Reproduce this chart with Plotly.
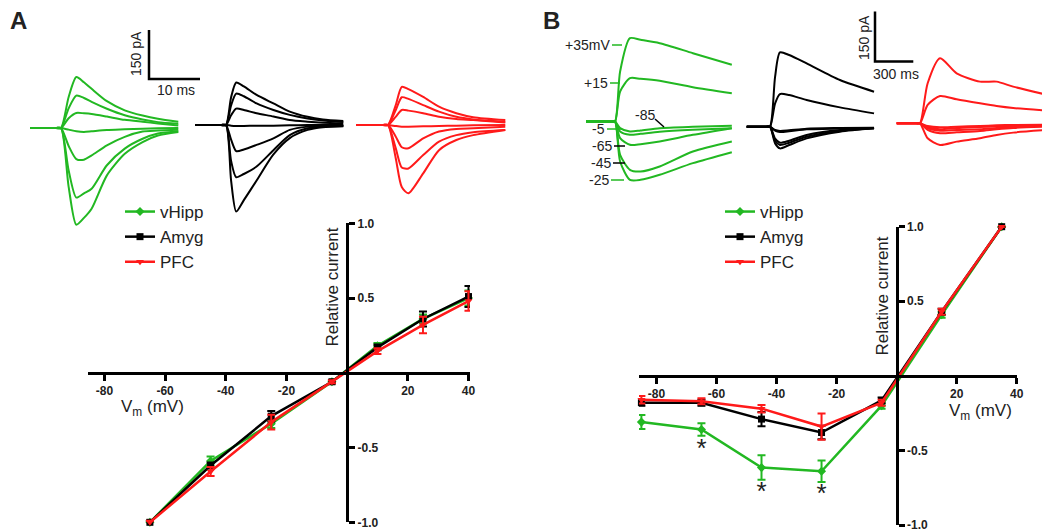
import plotly.graph_objects as go

W, H = 1050, 530
OX, OY = 8, 8  # the page body offsets the figure by 8 px
GREEN = '#22b822'
BLACK = '#000000'
RED = '#ff1a1a'
TXT = '#222222'
FONT = 'Liberation Sans, Arial, sans-serif'

# ---------------- I-V curves (relative current) ----------------
vm_a = [-65, -45, -25, -5, 10, 25, 40]
vhipp_a = [-1.0, -0.59, -0.34, -0.06, 0.18, 0.36, 0.50]
vhipp_a_err = [0.01, 0.03, 0.03, 0.01, 0.02, 0.03, 0.05]
amyg_a = [-1.0, -0.62, -0.29, -0.06, 0.17, 0.36, 0.51]
amyg_a_err = [0.01, 0.02, 0.035, 0.01, 0.02, 0.05, 0.07]
pfc_a = [-1.0, -0.66, -0.33, -0.06, 0.145, 0.32, 0.48]
pfc_a_err = [0.01, 0.03, 0.05, 0.01, 0.02, 0.055, 0.065]

vm_b = [-85, -65, -45, -25, -5, 15, 35]
vhipp_b = [-0.31, -0.36, -0.615, -0.64, -0.20, 0.41, 1.0]
vhipp_b_err = [0.047, 0.042, 0.082, 0.072, 0.02, 0.02, 0.0]
amyg_b = [-0.18, -0.18, -0.29, -0.38, -0.165, 0.43, 1.0]
amyg_b_err = [0.02, 0.02, 0.048, 0.045, 0.02, 0.02, 0.0]
pfc_b = [-0.16, -0.17, -0.22, -0.34, -0.18, 0.43, 1.0]
pfc_b_err = [0.025, 0.02, 0.025, 0.088, 0.02, 0.02, 0.0]

star_vm = [-65, -45, -25]
star_rel = [-0.5, -0.79, -0.8]

x_ticks = [-80, -60, -40, -20, 20, 40]
y_ticks = [-1, -0.5, 0.5, 1]

# ---------------- example sweeps (pA vs ms) ----------------
# panel A, sweeps at +40, +25, +10, -5, -25, -45, -65 mV
t_hipp_a = [-6, -1, 0, 1.5, 3, 4.5, 6, 9, 12.5, 16, 19, 23]
hipp_a_sweeps = [
    [0, 0, 0, 95, 156, 140, 120, 82, 54, 38, 28, 19],
    [0, 0, 0, 60, 99, 92, 80, 59, 39, 26, 18, 13],
    [0, 0, 0, 30, 46, 45, 43, 35, 25, 19, 14, 8],
    [0, 0, 0, -5, -10, -12, -10, -6, -4, -2, -1, 0],
    [0, 0, 0, -55, -95, -97, -84, -53, -27, -11, -8, -5],
    [0, 0, 0, -130, -213, -200, -186, -114, -63, -33, -17, -10],
    [0, 0, 0, -180, -296, -275, -247, -145, -79, -43, -23, -12],
]
t_amyg_a = [-6, -1, 0, 1, 2, 3.5, 6, 9.3, 12.5, 16, 19, 23]
amyg_a_sweeps = [
    [0, 0, 0, 85, 130, 118, 92, 66, 41, 25, 17, 12],
    [0, 0, 0, 60, 96, 88, 66, 46, 31, 20, 14, 9],
    [0, 0, 0, 30, 50, 46, 36, 26, 15, 10, 7, 5],
    [0, 0, 0, -2, -3, -3, -2, -2, -1, 0, 0, 0],
    [0, 0, 0, -45, -80, -75, -61, -41, -15, -5, -3, -2],
    [0, 0, 0, -110, -160, -150, -127, -77, -31, -10, -5, -3],
    [0, 0, 0, -170, -265, -230, -170, -90, -40, -15, -7, -4],
]
t_pfc_a = [-6.2, -1, 0, 1.5, 2.7, 4, 6.9, 10, 13.4, 16.7, 23]
pfc_a_sweeps = [
    [0, 0, 0, 60, 117, 110, 86, 56, 36, 24, 15],
    [0, 0, 0, 45, 85, 80, 61, 41, 25, 17, 10],
    [0, 0, 0, 25, 46, 44, 36, 25, 18, 15, 8],
    [0, 0, 0, -3, -5, -5, -4, -3, -2, -1, 0],
    [0, 0, 0, -35, -68, -71, -41, -20, -12, -10, -5],
    [0, 0, 0, -70, -130, -133, -92, -51, -31, -22, -15],
    [0, 0, 0, -100, -190, -209, -148, -77, -46, -31, -15],
]

# panel B, sweeps at +35, +15, -5, -25, -45, -65, -85 mV
t_hipp_b = [-227, -30, 0, 40, 117, 200, 350, 610, 915]
hipp_b_sweeps = [
    [0, 0, 0, 150, 250, 245, 235, 205, 170],
    [0, 0, 0, 90, 130, 128, 122, 103, 85],
    [0, 0, 0, -30, -40, -37, -31, -25, -20],
    [0, 0, 0, -120, -175, -175, -160, -125, -92],
    [0, 0, 0, -100, -145, -150, -135, -90, -60],
    [0, 0, 0, -50, -70, -68, -60, -40, -20],
    [0, 0, 0, -20, -30, -27, -20, -16, -13],
]
t_amyg_b = [-182, -30, 0, 40, 78, 150, 287, 548, 815]
amyg_b_sweeps = [
    [0, 0, 0, 150, 223, 215, 190, 140, 105],
    [0, 0, 0, 70, 98, 95, 80, 58, 40],
    [0, 0, 0, -12, -16, -14, -8, -5, -4],
    [0, 0, 0, -50, -65, -55, -35, -15, -5],
    [0, 0, 0, -42, -55, -48, -30, -13, -5],
    [0, 0, 0, -36, -48, -42, -25, -10, -5],
    [0, 0, 0, -10, -13, -11, -6, -4, -3],
]
t_pfc_b = [-182, -30, 0, 60, 157, 287, 470, 600, 730, 1000]
pfc_b_sweeps = [
    [0, 0, 0, 120, 195, 150, 125, 125, 110, 85],
    [0, 0, 0, 55, 82, 72, 60, 52, 46, 38],
    [0, 0, 0, -12, -18, -14, -11, -9, -8, -6],
    [0, 0, 0, -45, -65, -55, -45, -35, -28, -20],
    [0, 0, 0, -20, -30, -27, -23, -18, -14, -10],
    [0, 0, 0, -15, -22, -20, -18, -14, -11, -8],
    [0, 0, 0, -8, -12, -10, -8, -6, -5, -4],
]

step_labels_b = ['+35mV', '+15', '-85', '-5', '-65', '-45', '-25']

# scale bars (ms, pA)
scale_a = (10, 150)
scale_b = (300, 150)

# pixel scales of the sweep insets
PPMS_A, PPPA_A = 5.1, 49 / 150
PPMS_B, PPPA_B = 38.3 / 300, 50 / 150


def px(x):
    return (x - OX) / W


def py(y):
    return 1 - (y - OY) / H


fig = go.Figure()


def add_sweeps(t, sweeps, color, onset_px, base_px, xa, ya, ppms, pppa):
    x0 = (onset_px - OX) / ppms
    y0 = (H - base_px + OY) / pppa
    for cur in sweeps:
        fig.add_trace(go.Scatter(
            x=[x0 + v for v in t], y=[y0 + c for c in cur], mode='lines',
            line=dict(color=color, width=2, shape='spline', smoothing=0.7),
            xaxis=xa, yaxis=ya, showlegend=False, hoverinfo='skip'))


add_sweeps(t_hipp_a, hipp_a_sweeps, GREEN, 61, 128, 'x3', 'y3', PPMS_A, PPPA_A)
add_sweeps(t_amyg_a, amyg_a_sweeps, BLACK, 226, 125, 'x3', 'y3', PPMS_A, PPPA_A)
add_sweeps(t_pfc_a, pfc_a_sweeps, RED, 388, 125, 'x3', 'y3', PPMS_A, PPPA_A)
add_sweeps(t_hipp_b, hipp_b_sweeps, GREEN, 615, 121.5, 'x4', 'y4', PPMS_B, PPPA_B)
add_sweeps(t_amyg_b, amyg_b_sweeps, BLACK, 770, 126.7, 'x4', 'y4', PPMS_B, PPPA_B)
add_sweeps(t_pfc_b, pfc_b_sweeps, RED, 920, 123.3, 'x4', 'y4', PPMS_B, PPPA_B)


def add_scalebar(corner, size, xa, ya, ppms, pppa):
    cx, cy = (corner[0] - OX) / ppms, (H - corner[1] + OY) / pppa
    fig.add_trace(go.Scatter(
        x=[cx, cx, cx + size[0]], y=[cy + size[1], cy, cy], mode='lines',
        line=dict(color=BLACK, width=2.5), xaxis=xa, yaxis=ya,
        showlegend=False, hoverinfo='skip'))


add_scalebar((149, 79), scale_a, 'x3', 'y3', PPMS_A, PPPA_A)
add_scalebar((875, 61.5), scale_b, 'x4', 'y4', PPMS_B, PPPA_B)

# I-V traces
series = [
    ('vHipp', GREEN, 'diamond', vhipp_a, vhipp_a_err, vhipp_b, vhipp_b_err),
    ('Amyg', BLACK, 'square', amyg_a, amyg_a_err, amyg_b, amyg_b_err),
    ('PFC', RED, 'triangle-down', pfc_a, pfc_a_err, pfc_b, pfc_b_err),
]
for name, color, sym, ya_, ea, yb, eb in series:
    for vm, vals, err, xa, yax, leg in [(vm_a, ya_, ea, 'x', 'y', 'legend'),
                                       (vm_b, yb, eb, 'x2', 'y2', 'legend2')]:
        fig.add_trace(go.Scatter(
            x=vm, y=vals, name=name, mode='lines+markers',
            line=dict(color=color, width=2.5),
            marker=dict(symbol=sym, size=7, color=color),
            error_y=dict(type='data', array=err, color=color, thickness=2, width=4),
            xaxis=xa, yaxis=yax, legend=leg, cliponaxis=False, hoverinfo='skip'))

fig.add_trace(go.Scatter(
    x=star_vm, y=star_rel, mode='text', text=['*'] * len(star_vm),
    textfont=dict(size=26, color=TXT, family=FONT), xaxis='x2', yaxis='y2',
    showlegend=False, hoverinfo='skip', cliponaxis=False))


def iv_axes(x_left, x_right, xr, y_top, y_bot):
    xdom = [px(x_left), px(x_right)]
    ydom = [py(y_bot), py(y_top)]
    ypos = xdom[0] + (0 - xr[0]) / (xr[1] - xr[0]) * (xdom[1] - xdom[0])
    xpos = (ydom[0] + ydom[1]) / 2
    tick = dict(ticks='outside', ticklen=6, tickwidth=3, tickcolor=BLACK,
                showline=True, linewidth=3, linecolor=BLACK, showgrid=False,
                zeroline=False, automargin=False,
                tickfont=dict(size=12, color=TXT, family=FONT, weight='bold'))
    xax = dict(domain=xdom, range=xr, anchor='free', position=xpos, side='bottom',
               tickvals=x_ticks, ticktext=[str(v) for v in x_ticks], **tick)
    yax = dict(domain=ydom, range=[-1, 1], anchor='free', position=ypos, side='right',
               tickvals=y_ticks, ticktext=['%.1f' % v for v in y_ticks], **tick)
    return xax, yax


xa1, ya1 = iv_axes(87.7, 470, [-85.5, 40.5], 223.3, 522.3)
xa2, ya2 = iv_axes(639, 1017.3, [-85.8, 40.2], 226.7, 525)

hidden = dict(visible=False, domain=[0, 1], showgrid=False, zeroline=False, automargin=False)

annotations = [
    dict(text='<b>A</b>', x=px(18), y=py(21), font=dict(size=24)),
    dict(text='<b>B</b>', x=px(551), y=py(21), font=dict(size=24)),
    dict(text='Relative current', x=px(331.5), y=py(287), textangle=-90, font=dict(size=17)),
    dict(text='V<sub>m</sub> (mV)', x=px(152), y=py(408), font=dict(size=17)),
    dict(text='Relative current', x=px(881.5), y=py(296), textangle=-90, font=dict(size=17)),
    dict(text='V<sub>m</sub> (mV)', x=px(980), y=py(412), font=dict(size=17)),
    dict(text='150 pA', x=px(136), y=py(54), textangle=-90, font=dict(size=14)),
    dict(text='10 ms', x=px(176), y=py(90), font=dict(size=14)),
    dict(text='150 pA', x=px(864), y=py(38), textangle=-90, font=dict(size=14)),
    dict(text='300 ms', x=px(896), y=py(74), font=dict(size=14)),
]
for a in annotations:
    a.update(xref='paper', yref='paper', showarrow=False, xanchor='center', yanchor='middle')
    a['font'].update(family=FONT, color=TXT)

# step labels next to the vHipp sweeps in B: (right edge x, y, pointer end x, pointer colour)
label_pos = [(612, 45, 622, GREEN), (610, 83, 620, GREEN), (None, 115, None, BLACK),
             (607, 129, 622, GREEN), (614, 146, 625, BLACK), (613, 163, 625, BLACK),
             (611, 180, 624, GREEN)]
shapes = []
for lab, (xr_, yy, xe, col) in zip(step_labels_b, label_pos):
    if xr_ is None:
        annotations.append(dict(text=lab, x=px(645), y=py(yy), xref='paper', yref='paper',
                                xanchor='center', yanchor='middle', showarrow=False,
                                font=dict(size=14, family=FONT, color=TXT)))
        shapes.append(dict(type='line', xref='paper', yref='paper', x0=px(655), y0=py(119),
                           x1=px(664), y1=py(127), line=dict(color=col, width=1.5)))
        continue
    annotations.append(dict(text=lab, x=px(xr_), y=py(yy), xref='paper', yref='paper',
                            xanchor='right', yanchor='middle', showarrow=False,
                            font=dict(size=14, family=FONT, color=TXT)))
    shapes.append(dict(type='line', xref='paper', yref='paper', x0=px(xr_), y0=py(yy),
                       x1=px(xe), y1=py(yy), line=dict(color=col, width=1.5)))

legend_style = dict(font=dict(size=17, family=FONT, color=TXT), bgcolor='rgba(0,0,0,0)',
                    xanchor='left', yanchor='top', tracegroupgap=0, itemwidth=30)

fig.update_layout(
    width=W, height=H, margin=dict(l=0, r=0, t=0, b=0, autoexpand=False),
    paper_bgcolor='white', plot_bgcolor='rgba(0,0,0,0)',
    font=dict(family=FONT, color=TXT),
    xaxis=xa1, yaxis=ya1, xaxis2=xa2, yaxis2=ya2,
    xaxis3=dict(range=[0, W / PPMS_A], anchor='y3', **hidden),
    yaxis3=dict(range=[0, H / PPPA_A], anchor='x3', **hidden),
    xaxis4=dict(range=[0, W / PPMS_B], anchor='y4', **hidden),
    yaxis4=dict(range=[0, H / PPPA_B], anchor='x4', **hidden),
    legend=dict(x=px(120), y=py(194), **legend_style),
    legend2=dict(x=px(720), y=py(194), **legend_style),
    annotations=annotations, shapes=shapes,
)

fig.write_html('out.html')
